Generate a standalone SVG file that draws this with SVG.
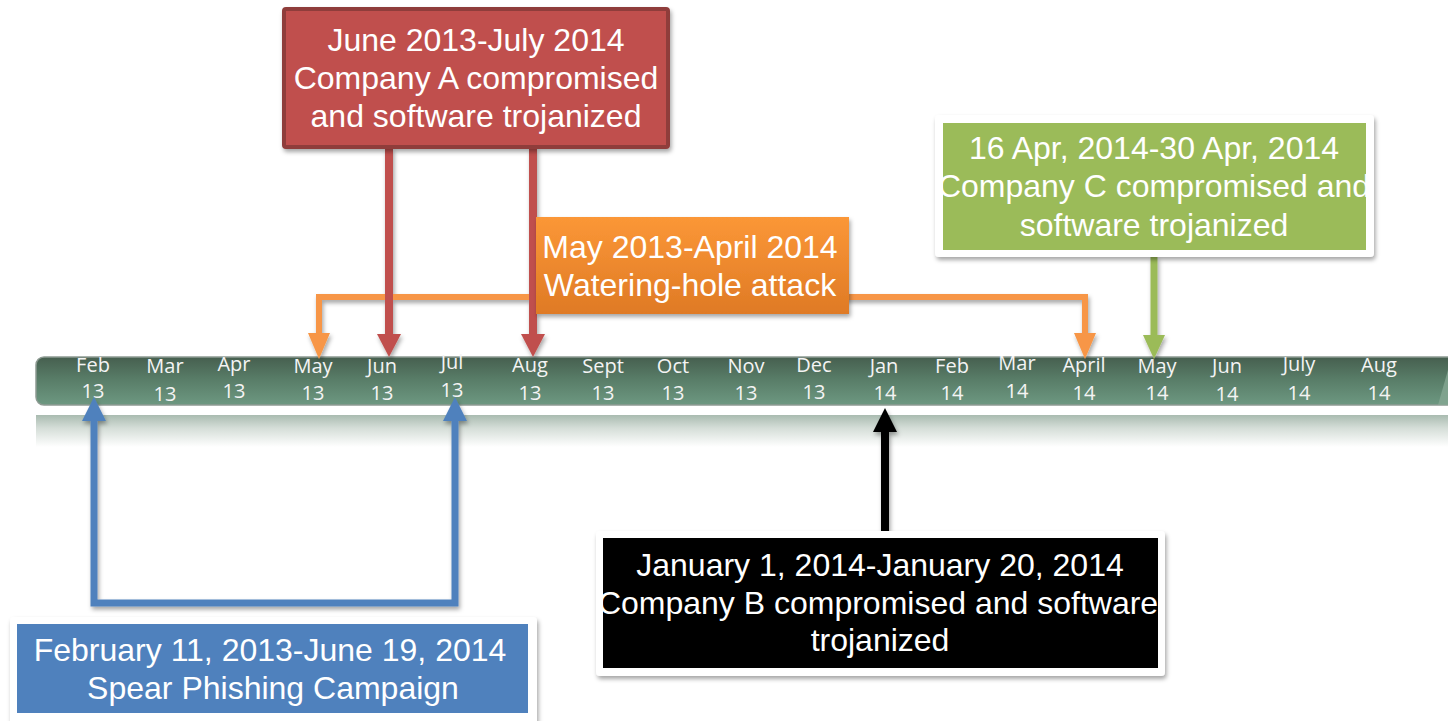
<svg xmlns="http://www.w3.org/2000/svg" width="1448" height="721" viewBox="0 0 1448 721">
<defs>
<linearGradient id="barG" x1="0" y1="0" x2="0" y2="1">
<stop offset="0" stop-color="#465f4f"/>
<stop offset="0.45" stop-color="#587c67"/>
<stop offset="1" stop-color="#6d9881"/>
</linearGradient>
<linearGradient id="reflG" x1="0" y1="0" x2="0" y2="1">
<stop offset="0" stop-color="#a9bbb0"/>
<stop offset="0.4" stop-color="#d4ddd7"/>
<stop offset="1" stop-color="#ffffff"/>
</linearGradient>
<linearGradient id="orG" x1="0" y1="0" x2="0" y2="1">
<stop offset="0" stop-color="#fb9737"/>
<stop offset="1" stop-color="#df7a25"/>
</linearGradient>
<filter id="sh" x="-10%" y="-10%" width="130%" height="140%">
<feDropShadow dx="1.5" dy="3" stdDeviation="2" flood-color="#000" flood-opacity="0.35"/>
</filter>
<clipPath id="clipG"><rect x="943" y="123" width="423" height="127"/></clipPath>
<clipPath id="clipK"><rect x="603" y="538" width="555" height="130"/></clipPath>
</defs>
<style>
.mon{font-family:"Open Sans","DejaVu Sans",sans-serif;font-size:20px;fill:#f4f4f4;text-anchor:middle}
.bt{font-family:"Liberation Sans",Arial,sans-serif;font-size:32px;fill:#ffffff;text-anchor:middle}
.frame{fill:#ffffff;filter:url(#sh)}
</style>

<g id="timeline">
<rect x="36" y="415" width="1420" height="32" fill="url(#reflG)"/>
<rect x="36" y="357" width="1430" height="48" rx="8" fill="url(#barG)" stroke="#8d9a92" stroke-width="1.5"/>
<polygon points="1438,405 1448,370 1448,405" fill="#86a894" opacity="0.8"/>
<text class="mon" x="93" y="372">Feb</text><text class="mon" x="93" y="398">13</text>
<text class="mon" x="165" y="373">Mar</text><text class="mon" x="165" y="401">13</text>
<text class="mon" x="234" y="371">Apr</text><text class="mon" x="234" y="398">13</text>
<text class="mon" x="313" y="373">May</text><text class="mon" x="313" y="400">13</text>
<text class="mon" x="382" y="373">Jun</text><text class="mon" x="382" y="400">13</text>
<text class="mon" x="452" y="369">Jul</text><text class="mon" x="452" y="397">13</text>
<text class="mon" x="530" y="372">Aug</text><text class="mon" x="530" y="400">13</text>
<text class="mon" x="603" y="373">Sept</text><text class="mon" x="603" y="400">13</text>
<text class="mon" x="673" y="373">Oct</text><text class="mon" x="673" y="400">13</text>
<text class="mon" x="746" y="373">Nov</text><text class="mon" x="746" y="400">13</text>
<text class="mon" x="814" y="372">Dec</text><text class="mon" x="814" y="399">13</text>
<text class="mon" x="884" y="373">Jan</text><text class="mon" x="885" y="400">14</text>
<text class="mon" x="952" y="373">Feb</text><text class="mon" x="952" y="400">14</text>
<text class="mon" x="1017" y="370">Mar</text><text class="mon" x="1017" y="398">14</text>
<text class="mon" x="1084" y="372">April</text><text class="mon" x="1084" y="400">14</text>
<text class="mon" x="1157" y="373">May</text><text class="mon" x="1157" y="400">14</text>
<text class="mon" x="1227" y="373">Jun</text><text class="mon" x="1227" y="401">14</text>
<text class="mon" x="1299" y="371">July</text><text class="mon" x="1299" y="400">14</text>
<text class="mon" x="1379" y="372">Aug</text><text class="mon" x="1379" y="400">14</text>
</g>

<g id="connectors" filter="url(#sh)">
<polyline points="319,334 319,297 1085,297 1085,334" fill="none" stroke="#f79646" stroke-width="6"/>
<polygon points="308,333 330,333 319,359" fill="#f79646"/>
<polygon points="1074,333 1096,333 1085,359" fill="#f79646"/>
<line x1="389" y1="148" x2="389" y2="336" stroke="#c0504d" stroke-width="8"/>
<polygon points="377,334 401,334 389,357" fill="#c0504d"/>
<line x1="533" y1="148" x2="533" y2="336" stroke="#c0504d" stroke-width="8"/>
<polygon points="521,334 545,334 533,357" fill="#c0504d"/>
<line x1="1154" y1="257" x2="1154" y2="337" stroke="#9bbb59" stroke-width="7"/>
<polygon points="1143,335 1165,335 1154,359" fill="#9bbb59"/>
<polyline points="94,420 94,603 455,603 455,420" fill="none" stroke="#4f81bd" stroke-width="7"/>
<polygon points="82,421 106,421 94,397" fill="#4f81bd"/>
<polygon points="443,421 467,421 455,397" fill="#4f81bd"/>
<line x1="885" y1="531" x2="885" y2="430" stroke="#000000" stroke-width="8"/>
<polygon points="873,432 897,432 885,408" fill="#000000"/>
</g>

<g id="node-companyA">
<rect x="284" y="9" width="384" height="138" rx="2" fill="#c0504d" stroke="#8f3c3a" stroke-width="4" filter="url(#sh)"/>
<text class="bt" x="476" y="51">June 2013-July 2014</text>
<text class="bt" x="476" y="89">Company A compromised</text>
<text class="bt" x="476" y="127">and software trojanized</text>
</g>

<g id="node-watering">
<rect x="536" y="217" width="313" height="97" fill="url(#orG)" filter="url(#sh)"/>
<text class="bt" x="690" y="258">May 2013-April 2014</text>
<text class="bt" x="690" y="296">Watering-hole attack</text>
</g>

<g id="node-companyC">
<rect class="frame" x="935" y="115" width="439" height="142" rx="4"/>
<rect x="943" y="123" width="423" height="127" fill="#9bbb59"/>
<g clip-path="url(#clipG)">
<text class="bt" x="1154" y="159">16 Apr, 2014-30 Apr, 2014</text>
<text class="bt" x="1154" y="197">Company C compromised and</text>
<text class="bt" x="1154" y="236">software trojanized</text>
</g>
</g>

<g id="node-companyB">
<rect class="frame" x="596" y="531" width="569" height="145" rx="4"/>
<rect x="603" y="538" width="555" height="130" fill="#000000"/>
<g clip-path="url(#clipK)">
<text class="bt" x="880" y="576">January 1, 2014-January 20, 2014</text>
<text class="bt" x="878" y="614">Company B compromised and software</text>
<text class="bt" x="880" y="651">trojanized</text>
</g>
</g>

<g id="node-spear">
<rect class="frame" x="10" y="617" width="527" height="110" rx="4"/>
<rect x="17" y="624" width="511" height="89" fill="#4f81bd"/>
<text class="bt" x="270" y="661">February 11, 2013-June 19, 2014</text>
<text class="bt" x="273" y="699">Spear Phishing Campaign</text>
</g>
</svg>
